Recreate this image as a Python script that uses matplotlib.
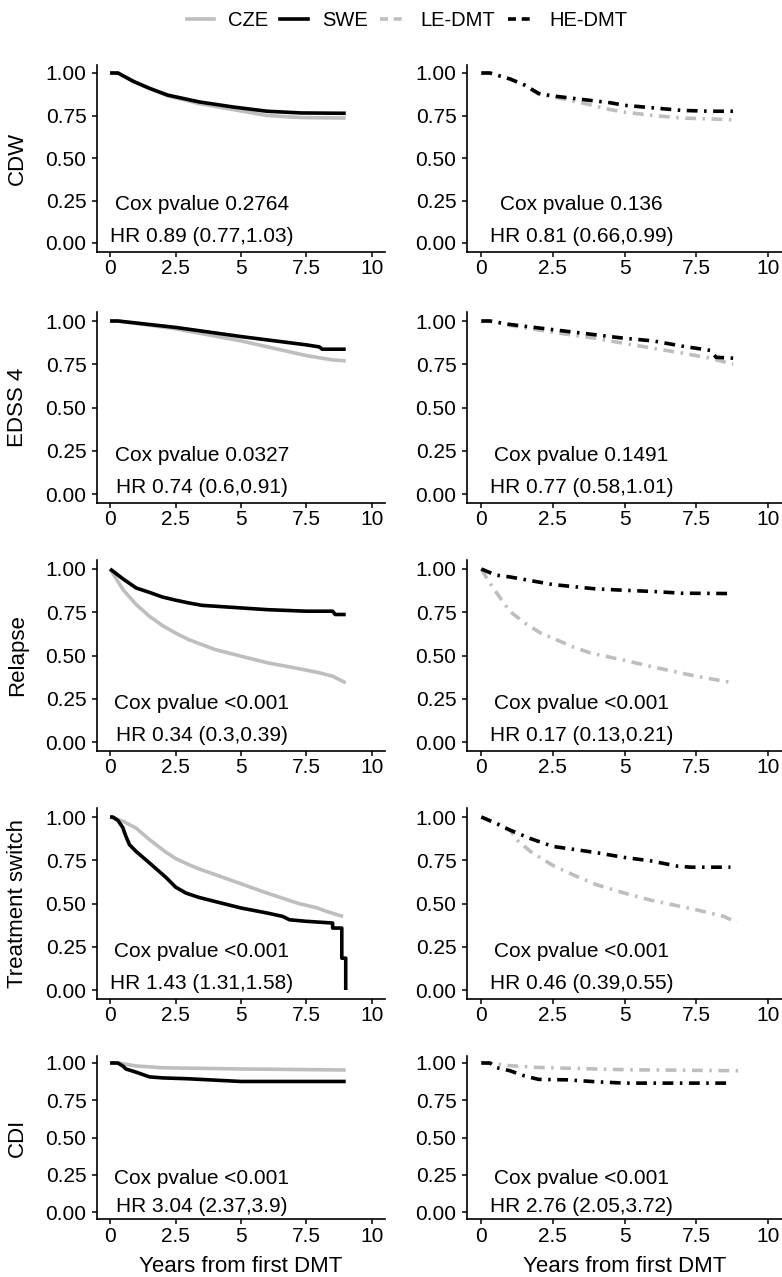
import matplotlib
matplotlib.use("Agg")
import matplotlib.pyplot as plt
from matplotlib.lines import Line2D

plt.rcParams['font.family'] = ['Liberation Sans', 'DejaVu Sans']

# ---------------- data ----------------
outcomes = ["CDW", "EDSS 4", "Relapse", "Treatment switch", "CDI"]
legend_labels = ["CZE", "SWE", "LE-DMT", "HE-DMT"]
x_ticks = [0, 2.5, 5, 7.5, 10]
x_tick_labels = ["0", "2.5", "5", "7.5", "10"]
y_ticks = [0.0, 0.25, 0.5, 0.75, 1.0]
y_tick_labels = ["0.00", "0.25", "0.50", "0.75", "1.00"]

# Country comparison (left column)
cdw_cze_t = [0, 0.3, 0.9, 1.5, 2.2, 2.5, 3.4, 4.7, 6, 7.3, 9]
cdw_cze_s = [1, 1, 0.95, 0.91, 0.865, 0.855, 0.82, 0.785, 0.75, 0.738, 0.735]
cdw_swe_t = [0, 0.3, 0.9, 1.5, 2.2, 2.5, 3.4, 4.7, 6, 7.3, 9]
cdw_swe_s = [1, 1, 0.95, 0.91, 0.87, 0.86, 0.83, 0.80, 0.775, 0.765, 0.763]

edss_cze_t = [0, 0.3, 2.5, 5, 7.5, 8.5, 9]
edss_cze_s = [1, 1, 0.955, 0.885, 0.80, 0.775, 0.77]
edss_swe_t = [0, 0.3, 2.5, 5, 7.5, 8.0, 8.1, 9]
edss_swe_s = [1, 1, 0.963, 0.91, 0.862, 0.85, 0.837, 0.837]

rel_cze_t = [0, 0.5, 1, 1.5, 2, 2.5, 3, 4, 5, 6, 7, 8, 8.5, 9]
rel_cze_s = [1, 0.88, 0.794, 0.727, 0.673, 0.63, 0.592, 0.535, 0.496, 0.458, 0.43, 0.40, 0.38, 0.342]
rel_swe_t = [0, 0.5, 1, 1.5, 2, 2.5, 3, 3.5, 5, 6, 7.5, 8.5, 8.6, 9]
rel_swe_s = [1, 0.942, 0.89, 0.865, 0.838, 0.82, 0.804, 0.79, 0.775, 0.765, 0.756, 0.756, 0.737, 0.737]

sw_cze_t = [0, 0.5, 1, 1.5, 2.1, 2.5, 3.0, 3.4, 4.7, 6, 7.2, 7.9, 8.25, 8.9]
sw_cze_s = [1, 0.975, 0.935, 0.87, 0.80, 0.76, 0.725, 0.70, 0.63, 0.56, 0.50, 0.475, 0.455, 0.425]
sw_swe_t = [0, 0.1, 0.3, 0.48, 0.6, 0.74, 1, 1.5, 2.14, 2.5, 2.9, 3.4, 4.05, 5, 6, 6.6, 6.85, 7.5,
            8.5, 8.5, 8.85, 8.85, 9.0, 9.0]
sw_swe_s = [1, 1, 0.98, 0.94, 0.89, 0.84, 0.80, 0.735, 0.65, 0.595, 0.56, 0.535, 0.51, 0.474, 0.445, 0.425,
            0.406, 0.397, 0.387, 0.358, 0.358, 0.184, 0.184, 0.0]

cdi_cze_t = [0, 0.3, 1, 2, 5, 9]
cdi_cze_s = [1, 1, 0.98, 0.968, 0.96, 0.953]
cdi_swe_t = [0, 0.3, 0.5, 0.6, 1, 1.5, 2, 3, 4, 5, 9]
cdi_swe_s = [1, 1, 0.978, 0.96, 0.938, 0.907, 0.90, 0.894, 0.885, 0.876, 0.876]

# Treatment efficacy comparison (right column)
cdw_le_t = [0, 0.3, 1, 1.5, 2, 2.5, 3.5, 4.5, 5, 6, 7, 8, 8.8]
cdw_le_s = [1, 1, 0.965, 0.93, 0.875, 0.86, 0.825, 0.785, 0.77, 0.75, 0.735, 0.73, 0.725]
cdw_he_t = [0, 0.3, 1, 1.5, 2, 2.5, 3.5, 4.5, 5, 6, 7, 8, 8.8]
cdw_he_s = [1, 1, 0.965, 0.93, 0.88, 0.865, 0.845, 0.825, 0.81, 0.795, 0.78, 0.775, 0.775]

edss_le_t = [0, 0.3, 1, 2.5, 4, 5, 7, 8, 8.8]
edss_le_s = [1, 1, 0.975, 0.935, 0.90, 0.87, 0.815, 0.785, 0.75]
edss_he_t = [0, 0.3, 1, 2.5, 4, 5, 6, 7, 8, 8.2, 8.8]
edss_he_s = [1, 1, 0.98, 0.95, 0.92, 0.90, 0.885, 0.855, 0.83, 0.79, 0.785]

rel_le_t = [0, 0.25, 0.67, 1.0, 1.5, 2.07, 2.5, 3.2, 3.8, 5, 6.1, 7.5, 8.8]
rel_le_s = [1, 0.93, 0.83, 0.755, 0.69, 0.63, 0.60, 0.55, 0.515, 0.472, 0.43, 0.38, 0.342]
rel_he_t = [0, 0.5, 1, 2.5, 4, 5, 6, 7, 8.8]
rel_he_s = [1, 0.965, 0.954, 0.91, 0.885, 0.877, 0.87, 0.86, 0.858]

sw_le_t = [0, 0.56, 1.02, 1.26, 1.72, 2.5, 3.35, 4.05, 5, 5.9, 6.84, 7.5, 8.47, 8.93]
sw_le_s = [1, 0.96, 0.92, 0.866, 0.80, 0.72, 0.655, 0.607, 0.56, 0.52, 0.487, 0.464, 0.425, 0.39]
sw_he_t = [0, 0.56, 1.02, 1.72, 2.5, 3.35, 4.05, 5, 5.9, 6.84, 7.3, 8.7]
sw_he_s = [1, 0.96, 0.923, 0.875, 0.83, 0.81, 0.793, 0.766, 0.747, 0.716, 0.71, 0.71]

cdi_le_t = [0, 0.3, 1, 2, 5, 9]
cdi_le_s = [1, 1, 0.982, 0.97, 0.955, 0.948]
cdi_he_t = [0, 0.3, 0.5, 1, 1.5, 2, 3, 4, 5, 8.6]
cdi_he_s = [1, 1, 0.97, 0.948, 0.914, 0.89, 0.887, 0.874, 0.865, 0.865]

left_pvals = ["Cox pvalue 0.2764", "Cox pvalue 0.0327", "Cox pvalue <0.001", "Cox pvalue <0.001", "Cox pvalue <0.001"]
left_hrs = ["HR 0.89 (0.77,1.03)", "HR 0.74 (0.6,0.91)", "HR 0.34 (0.3,0.39)", "HR 1.43 (1.31,1.58)", "HR 3.04 (2.37,3.9)"]
right_pvals = ["Cox pvalue 0.136", "Cox pvalue 0.1491", "Cox pvalue <0.001", "Cox pvalue <0.001", "Cox pvalue <0.001"]
right_hrs = ["HR 0.81 (0.66,0.99)", "HR 0.77 (0.58,1.01)", "HR 0.17 (0.13,0.21)", "HR 0.46 (0.39,0.55)", "HR 2.76 (2.05,3.72)"]

left_series = [
    ((cdw_cze_t, cdw_cze_s), (cdw_swe_t, cdw_swe_s)),
    ((edss_cze_t, edss_cze_s), (edss_swe_t, edss_swe_s)),
    ((rel_cze_t, rel_cze_s), (rel_swe_t, rel_swe_s)),
    ((sw_cze_t, sw_cze_s), (sw_swe_t, sw_swe_s)),
    ((cdi_cze_t, cdi_cze_s), (cdi_swe_t, cdi_swe_s)),
]
right_series = [
    ((cdw_le_t, cdw_le_s), (cdw_he_t, cdw_he_s)),
    ((edss_le_t, edss_le_s), (edss_he_t, edss_he_s)),
    ((rel_le_t, rel_le_s), (rel_he_t, rel_he_s)),
    ((sw_le_t, sw_le_s), (sw_he_t, sw_he_s)),
    ((cdi_le_t, cdi_le_s), (cdi_he_t, cdi_he_s)),
]

# ---------------- layout ----------------
W, H = 782, 1277
fig = plt.figure(figsize=(W / 100, H / 100), dpi=100)
fig.patch.set_facecolor("white")

GRAY = "#BEBEBE"
LW = 2.6
DASHDOT = (0, (3.0, 1.8, 0.7, 1.8))
LEG_DASH = (0, (2.2, 1.6))

row_px = [(73, 243), (321, 494), (569, 742), (817, 990), (1063, 1212)]
col_px = [(97, 385), (467, 782)]

TICK_FS = 15
ANN_FS = 15
LAB_FS = 16


def style_axes(ax):
    ax.set_xlim(-0.5, 10.5)
    ax.set_ylim(-0.05, 1.05)
    ax.set_xticks(x_ticks)
    ax.set_xticklabels(x_tick_labels)
    ax.set_yticks(y_ticks)
    ax.set_yticklabels(y_tick_labels)
    for s in ["top", "right"]:
        ax.spines[s].set_visible(False)
    for s in ["left", "bottom"]:
        ax.spines[s].set_linewidth(1.2)
        ax.spines[s].set_color("black")
    ax.tick_params(axis="both", labelsize=TICK_FS, width=1.1, length=3.6,
                   color="black", labelcolor="black")
    ax.tick_params(axis="y", pad=4)
    ax.tick_params(axis="x", pad=2)
    ax.set_facecolor("white")


for r, (y1, y0) in enumerate(row_px):
    h = y0 - y1
    top = y1 - 0.05 * h
    bot = y0 + 0.05 * h
    for c, (xl, xr) in enumerate(col_px):
        ax = fig.add_axes([xl / W, 1 - bot / H, (xr - xl) / W, (bot - top) / H])
        style_axes(ax)
        if c == 0:
            (t1, s1), (t2, s2) = left_series[r]
            ax.plot(t1, s1, color=GRAY, lw=LW, solid_capstyle="butt")
            ax.plot(t2, s2, color="black", lw=LW, solid_capstyle="butt")
            ax.text(3.5, 0.225, left_pvals[r], ha="center", va="center", fontsize=ANN_FS)
            ax.text(3.5, 0.04, left_hrs[r], ha="center", va="center", fontsize=ANN_FS)
            fig.text(17.5 / W, 1 - ((y1 + y0) / 2) / H, outcomes[r], rotation=90,
                     ha="center", va="center", fontsize=LAB_FS)
        else:
            (t1, s1), (t2, s2) = right_series[r]
            ax.plot(t1, s1, color=GRAY, lw=LW, linestyle=DASHDOT)
            ax.plot(t2, s2, color="black", lw=LW, linestyle=DASHDOT)
            ax.text(3.5, 0.225, right_pvals[r], ha="center", va="center", fontsize=ANN_FS)
            ax.text(3.5, 0.04, right_hrs[r], ha="center", va="center", fontsize=ANN_FS)
        if r == len(row_px) - 1:
            fig.text(((xl + xr) / 2) / W, 1 - 1256 / H, "Years from first DMT",
                     ha="center", va="top", fontsize=LAB_FS)

handles = [
    Line2D([], [], color=GRAY, lw=LW),
    Line2D([], [], color="black", lw=LW),
    Line2D([], [], color=GRAY, lw=LW, linestyle=LEG_DASH),
    Line2D([], [], color="black", lw=LW, linestyle=LEG_DASH),
]
fig.legend(handles, legend_labels, loc="center", bbox_to_anchor=(407 / W, 1 - 21 / H),
           ncol=4, frameon=False, fontsize=14.5, handlelength=1.35, handletextpad=0.7,
           columnspacing=0.6, borderpad=0.1)

fig.savefig("out.png", dpi=100, facecolor="white")
